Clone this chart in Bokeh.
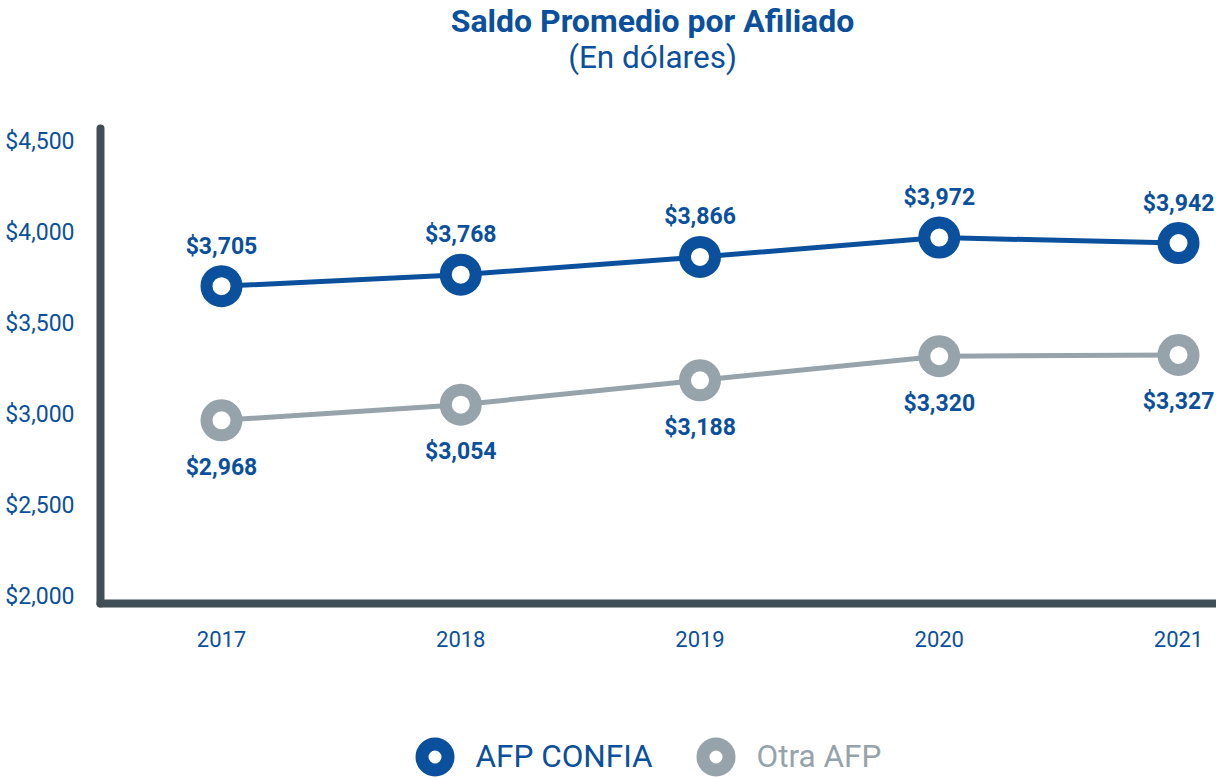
from bokeh.plotting import figure
from bokeh.models import (Range1d, FixedTicker, NumeralTickFormatter, Label, Legend,
                          LegendItem, ColumnDataSource)
from bokeh.core.properties import value
from bokeh.embed import file_html
from bokeh.resources import INLINE

# ---- data ----
years = [2017, 2018, 2019, 2020, 2021]
confia = [3705, 3768, 3866, 3972, 3942]
otra = [2968, 3054, 3188, 3320, 3327]
y_ticks = [2000, 2500, 3000, 3500, 4000, 4500]
series_names = ["AFP CONFIA", "Otra AFP"]
title_text = "Saldo Promedio por Afiliado"
subtitle_text = "(En dólares)"

BLUE = "#0b509c"
GRAY = "#96a3ab"
AXIS = "#404e56"
FONT = "Roboto"

W, H = 1216, 778
# frame covers the whole canvas; axes are placed at fixed locations inside it
x_lo, x_hi = 2016.0763, 2021.1588
y_lo, y_hi = 1000.0, 5274.7
axis_x = 2016.4943      # where the vertical axis sits
axis_y = 1961.5         # where the horizontal axis sits
axis_top = 4571.4

p = figure(width=W, height=H, output_backend="svg", toolbar_location=None,
           x_range=Range1d(x_lo, x_hi), y_range=Range1d(y_lo, y_hi),
           min_border_left=0, min_border_right=0, min_border_top=0,
           min_border_bottom=0)
p.outline_line_color = None
p.grid.visible = False
p.background_fill_color = "white"
p.border_fill_color = "white"

p.xaxis.ticker = FixedTicker(ticks=years)
p.yaxis.ticker = FixedTicker(ticks=y_ticks)
p.yaxis.formatter = NumeralTickFormatter(format="$0,0")
p.xaxis.fixed_location = axis_y
p.yaxis.fixed_location = axis_x
p.xaxis.bounds = (axis_x, x_hi)
p.yaxis.bounds = (axis_y, axis_top)

for ax in (p.xaxis[0], p.yaxis[0]):
    ax.axis_line_color = AXIS
    ax.axis_line_width = 8
    ax.axis_line_cap = "round"
    ax.major_tick_line_color = None
    ax.minor_tick_line_color = None
    ax.major_tick_out = 0
    ax.major_tick_in = 0
    ax.major_label_text_color = BLUE
    ax.major_label_text_font = FONT
p.xaxis.major_label_text_font_size = "22px"
p.yaxis.major_label_text_font_size = "23px"
p.yaxis.major_label_standoff = 26
p.xaxis.major_label_standoff = 27

src = ColumnDataSource(dict(
    x=years, c=confia, o=otra,
    cl=[f"${v:,}" for v in confia],
    ol=[f"${v:,}" for v in otra],
))

p.line("x", "o", source=src, line_color=GRAY, line_width=5)
p.line("x", "c", source=src, line_color=BLUE, line_width=5)
p.scatter("x", "o", source=src, size=30, fill_color="white", line_color=GRAY, line_width=12)
p.scatter("x", "c", source=src, size=30, fill_color="white", line_color=BLUE, line_width=12)

p.text("x", "c", text="cl", source=src, y_offset=-40, text_align="center",
       text_baseline="middle", text_font=value(FONT), text_font_style="bold",
       text_font_size="23px", text_color=BLUE)
p.text("x", "o", text="ol", source=src, y_offset=47, text_align="center",
       text_baseline="middle", text_font=value(FONT), text_font_style="bold",
       text_font_size="23px", text_color=BLUE)

# titles (screen units, from bottom-left of the frame)
p.add_layout(Label(x=652, y=H - 20, x_units="screen", y_units="screen", text=title_text,
                   text_align="center", text_baseline="middle", text_font=FONT,
                   text_font_style="bold", text_font_size="32px", text_color=BLUE))
p.add_layout(Label(x=652, y=H - 57, x_units="screen", y_units="screen", text=subtitle_text,
                   text_align="center", text_baseline="middle", text_font=FONT,
                   text_font_size="31.5px", text_color=BLUE))

# legend (dummy renderers off-range)
r1 = p.scatter(x=[1990], y=[0], size=26, fill_color="white", line_color=BLUE, line_width=13)
r2 = p.scatter(x=[1990], y=[0], size=26, fill_color="white", line_color=GRAY, line_width=13)

def make_legend(name, rend, color, loc):
    return Legend(items=[LegendItem(label=name, renderers=[rend])], location=loc,
                  orientation="horizontal", glyph_width=65, glyph_height=65,
                  label_standoff=9, padding=0, margin=0, border_line_color=None,
                  background_fill_alpha=0, label_text_font=FONT,
                  label_text_font_size="31.5px", label_text_color=color)

p.add_layout(make_legend(series_names[0], r1, BLUE, (401.5, -10.5)))
p.add_layout(make_legend(series_names[1], r2, GRAY, (682.5, -10.5)))

open("out.html", "w").write(file_html(p, INLINE))
